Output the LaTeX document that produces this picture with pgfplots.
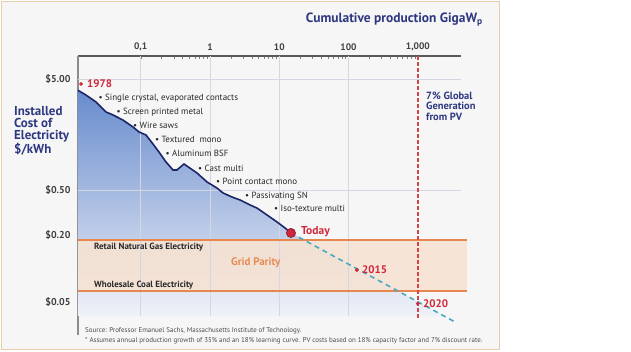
\documentclass[border=0pt]{standalone}
\usepackage{pgfplots}
\pgfplotsset{compat=1.18}
\usepackage{fontspec}
\setmainfont{PT Sans}
\definecolor{panelbg}{RGB}{246,246,246}
\definecolor{panelborder}{RGB}{233,204,168}
\definecolor{navy}{RGB}{46,56,128}
\definecolor{curve}{RGB}{27,36,103}
\definecolor{redlab}{RGB}{208,40,58}
\definecolor{vred}{RGB}{210,70,75}
\definecolor{bandline}{RGB}{232,134,79}
\definecolor{bandfill}{RGB}{246,227,211}
\definecolor{parity}{RGB}{233,138,85}
\definecolor{darktxt}{RGB}{40,40,40}
\definecolor{cyandash}{RGB}{74,168,192}
\definecolor{gridc}{RGB}{212,215,225}
\definecolor{filltop}{RGB}{104,140,205}
\definecolor{fillbot}{RGB}{240,242,248}
\begin{document}
\begin{tikzpicture}
\useasboundingbox (0,0) rectangle (631bp,-352bp);
\fill[white] (0,0) rectangle (631bp,-352bp);
\filldraw[fill=panelbg, draw=panelborder, line width=1bp] (1bp,-1bp) rectangle (499bp,-349bp);
\begin{axis}[
  at={(78bp,-316bp)}, anchor=south west,
  scale only axis, width=383bp, height=260bp,
  xmode=log, ymode=log,
  xmin=0.01245, xmax=4200, ymin=0.0374, ymax=8.04,
  axis x line*=top, axis y line*=left,
  clip=false,
  xtick={0.1,1,10,100,1000},
  xticklabels={{0,1},1,10,100,{1,000}},
  ytick={5,0.5,0.2,0.05},
  yticklabels={\$5.00,\$0.50,\$0.20,\$0.05},
  minor xtick={}, minor ytick={},
  major tick length=0pt,
  x axis line style={draw=black!65, line width=1.3bp},
  y axis line style={draw=black!45, line width=1.3bp},
  /pgf/number format/assume math mode=true,
  xticklabel style={font=\fontsize{9.5}{10}\selectfont\bfseries, text=black!75, yshift=2bp},
  yticklabel style={font=\fontsize{10}{10}\selectfont\bfseries, text=black!75, xshift=-4bp},
]
% shaded area under the curve
\addplot[draw=none, top color=filltop, bottom color=fillbot, forget plot] coordinates {
 (0.01245,3.96) (0.01625,3.59) (0.02265,3.11) (0.03155,2.53) (0.0398,2.38)
 (0.0556,2.14) (0.0774,1.855) (0.0945,1.674) (0.1193,1.573) (0.1505,1.306)
 (0.1837,1.107) (0.2317,0.901) (0.2924,0.764) (0.334,0.764) (0.4216,0.864)
 (0.6494,0.718) (0.905,0.596) (1.262,0.526) (1.540,0.475) (2.077,0.437)
 (2.710,0.411) (3.777,0.371) (4.765,0.348) (6.645,0.3015) (9.265,0.261)
 (12.09,0.2305) (14.75,0.208) (2383,0.0374) (0.01245,0.0374)};
% grid parity band
\addplot[draw=none, fill=bandfill, fill opacity=0.9, forget plot] coordinates {
 (0.01245,0.0628) (5115,0.0628) (5115,0.180) (0.01245,0.180)};
% grid lines
\addplot[draw=gridc, line width=0.7bp, forget plot] coordinates {(0.1,8.04) (0.1,0.0374)};
\addplot[draw=gridc, line width=0.7bp, forget plot] coordinates {(1,8.04) (1,0.0374)};
\addplot[draw=gridc, line width=0.7bp, forget plot] coordinates {(10,8.04) (10,0.0374)};
\addplot[draw=gridc, line width=0.7bp, forget plot] coordinates {(100,8.04) (100,0.0374)};
\addplot[draw=gridc, line width=0.7bp, forget plot] coordinates {(0.01245,5) (4200,5)};
\addplot[draw=gridc, line width=0.7bp, forget plot] coordinates {(0.01245,0.5) (4200,0.5)};
\addplot[draw=bandline, line width=1.4bp, forget plot] coordinates {(0.01245,0.180) (5115,0.180)};
\addplot[draw=bandline, line width=1.4bp, forget plot] coordinates {(0.01245,0.0628) (5115,0.0628)};
% 7% global generation marker
\addplot[draw=vred, line width=1.4bp, dash pattern=on 4bp off 2bp, forget plot] coordinates {(1000,8.04) (1000,0.0359)};
% projection
\addplot[draw=cyandash, line width=1.6bp, dash pattern=on 5bp off 4bp, forget plot] coordinates {(14.75,0.208) (3430,0.0331)};
% experience curve
\addplot[draw=curve, line width=1.6bp, forget plot] coordinates {
 (0.01245,3.96) (0.01625,3.59) (0.02265,3.11) (0.03155,2.53) (0.0398,2.38)
 (0.0556,2.14) (0.0774,1.855) (0.0945,1.674) (0.1193,1.573) (0.1505,1.306)
 (0.1837,1.107) (0.2317,0.901) (0.2924,0.764) (0.334,0.764) (0.4216,0.864)
 (0.6494,0.718) (0.905,0.596) (1.262,0.526) (1.540,0.475) (2.077,0.437)
 (2.710,0.411) (3.777,0.371) (4.765,0.348) (6.645,0.3015) (9.265,0.261)
 (12.09,0.2305) (14.75,0.208)};
% points
\addplot[only marks, mark=*, mark size=4.5bp, mark options={fill=redlab, draw=redlab!70!black, line width=0.8bp}, forget plot] coordinates {(14.75,0.208)};
\addplot[only marks, mark=*, mark size=1.7bp, mark options={fill=redlab, draw=redlab}, forget plot] coordinates {(0.01376,4.51) (132,0.0968) (1000,0.0483)};
\end{axis}
\draw[black!45, line width=1.3bp] (78bp,-316bp) -- (78bp,-335bp);
% title and labels
\node[anchor=east, font=\fontsize{13.5}{14}\selectfont\bfseries, text=navy, inner sep=0] at (483bp,-20bp) {Cumulative production GigaW\textsubscript{p}};
\node[anchor=north west, align=left, font=\fontsize{13}{12}\selectfont\bfseries, text=navy, inner sep=0] at (14bp,-106bp) {Installed\\Cost of\\Electricity\\\$/kWh};
\node[anchor=north west, align=left, font=\fontsize{10.5}{10.3}\selectfont\bfseries, text=navy, inner sep=0] at (426bp,-92bp) {7\% Global\\Generation\\from PV};
% annotations
\begin{scope}[every node/.style={anchor=west, inner sep=0, font=\fontsize{9}{10}\selectfont, text=darktxt}]
\node at (98.5bp,-98bp) {\textbullet\ Single crystal, evaporated contacts};
\node at (116.5bp,-112.7bp) {\textbullet\ Screen printed metal};
\node at (133bp,-125.3bp) {\textbullet\ Wire saws};
\node at (155bp,-139.3bp) {\textbullet\ Textured\ \ mono};
\node at (165.5bp,-153bp) {\textbullet\ Aluminum BSF};
\node at (198bp,-168.3bp) {\textbullet\ Cast multi};
\node at (216bp,-181bp) {\textbullet\ Point contact mono};
\node at (245bp,-196bp) {\textbullet\ Passivating SN};
\node at (274bp,-208.3bp) {\textbullet\ Iso-texture multi};
\end{scope}
\begin{scope}[every node/.style={anchor=west, inner sep=0, text=redlab}]
\node[font=\fontsize{11}{11}\selectfont\bfseries] at (87bp,-84bp) {1978};
\node[font=\fontsize{11.5}{11}\selectfont\bfseries] at (301bp,-232bp) {Today};
\node[font=\fontsize{11}{11}\selectfont\bfseries] at (362bp,-270bp) {2015};
\node[font=\fontsize{11}{11}\selectfont\bfseries] at (423bp,-304bp) {2020};
\end{scope}
\node[anchor=west, inner sep=0, font=\fontsize{9}{10}\selectfont\bfseries, text=darktxt] at (94bp,-247bp) {Retail Natural Gas Electricity};
\node[anchor=west, inner sep=0, font=\fontsize{9}{10}\selectfont\bfseries, text=darktxt] at (94bp,-285bp) {Wholesale Coal Electricity};
\node[anchor=west, inner sep=0, font=\fontsize{11}{11}\selectfont\bfseries, text=parity] at (231bp,-263bp) {Grid Parity};
\node[anchor=west, inner sep=0, font=\fontsize{7}{8}\selectfont, text=black!70] at (85bp,-331bp) {Source: Professor Emanuel Sachs, Massachusetts Institute of Technology.};
\node[anchor=west, inner sep=0, font=\fontsize{7}{8}\selectfont, text=black!70] at (85bp,-341bp) {* Assumes annual production growth of 35\% and an 18\% learning curve. PV costs based on 18\% capacity factor and 7\% discount rate.};
\end{tikzpicture}
\end{document}
